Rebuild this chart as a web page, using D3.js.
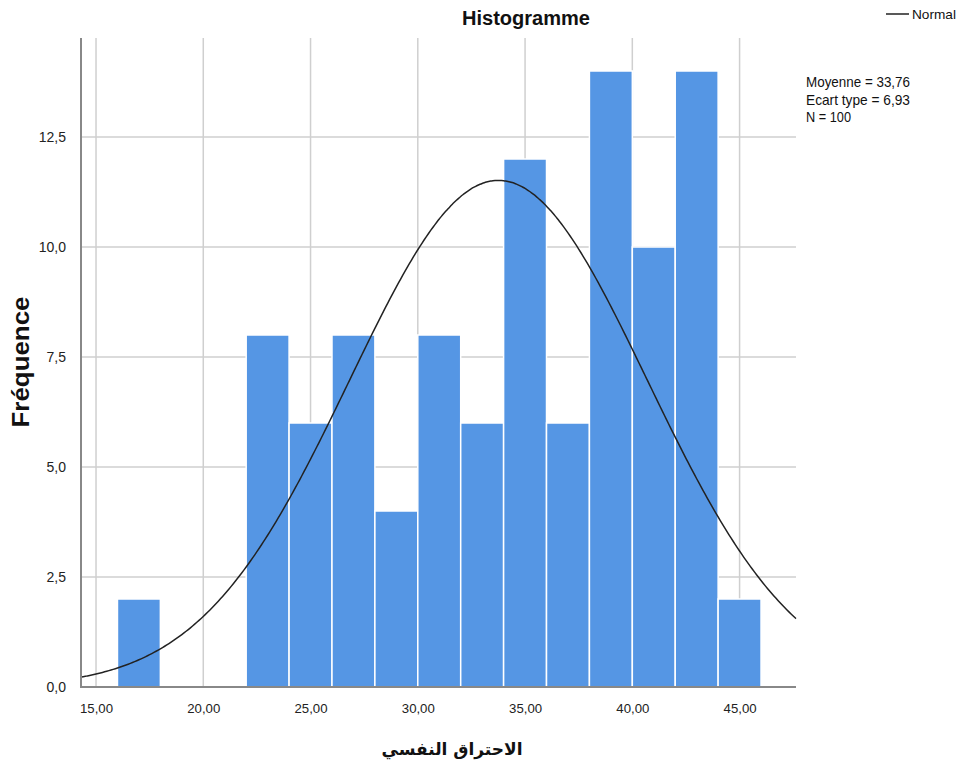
<!DOCTYPE html>
<html>
<head>
<meta charset="utf-8">
<script src="https://cdn.jsdelivr.net/npm/d3@7"></script>
<style>
  body { margin: 0; background: #fff; }
  svg { display: block; }
  text { font-family: "Liberation Sans", Arial, sans-serif; }
</style>
</head>
<body>
<svg id="chart" width="958" height="773"></svg>
<script>
// ---- data ----
const binStarts = [16, 18, 20, 22, 24, 26, 28, 30, 32, 34, 36, 38, 40, 42, 44];
const binCounts = [2, 0, 0, 8, 6, 8, 4, 8, 6, 12, 6, 14, 10, 14, 2];
const binWidth = 2;
const xTicks = [15, 20, 25, 30, 35, 40, 45];
const yTicks = [0, 2.5, 5, 7.5, 10, 12.5];
const statsMean = 33.76;
const statsSD = 6.93;
const statsN = 100;
const statsLines = ["Moyenne = 33,76", "Ecart type = 6,93", "N = 100"];
const titleText = "Histogramme";
const xTitle = "الاحتراق النفسي";
const yTitle = "Fréquence";
const legendLabel = "Normal";

(function () {
// ---- layout ----
const svg = d3.select("#chart");
const pL = 81, pR = 796, pT = 38, pB = 687;
const fmt = d3.format(".2f");
const comma = s => s.replace(".", ",");
const font = '"Liberation Sans", Arial, sans-serif';

const x = d3.scaleLinear().domain([14.3, 47.63]).range([pL, pR]);
const y = d3.scaleLinear().domain([0, 14.75]).range([pB, pT]);

// grid
const grid = svg.append("g");
grid.selectAll("line.v").data(xTicks).join("line").attr("class", "v")
  .attr("x1", d => x(d)).attr("x2", d => x(d))
  .attr("y1", pT).attr("y2", pB)
  .attr("stroke", "#cfcfcf").attr("stroke-width", 1.5);
grid.selectAll("line.h").data(yTicks.slice(1)).join("line").attr("class", "h")
  .attr("x1", pL).attr("x2", pR)
  .attr("y1", d => y(d)).attr("y2", d => y(d))
  .attr("stroke", "#cfcfcf").attr("stroke-width", 1.5);

// bars
svg.append("g").selectAll("rect")
  .data(binStarts.map((s, i) => ({s, c: binCounts[i]})).filter(d => d.c > 0))
  .join("rect")
  .attr("x", d => x(d.s))
  .attr("width", d => x(d.s + binWidth) - x(d.s))
  .attr("y", d => y(d.c))
  .attr("height", d => y(0) - y(d.c))
  .attr("fill", "#5596E4")
  .attr("stroke", "#ffffff").attr("stroke-width", 1.5);

// normal curve
const pts = d3.range(14.3, 47.63, 0.1).concat([47.63]).map(v => {
  const z = (v - statsMean) / statsSD;
  return [v, statsN * binWidth * Math.exp(-0.5 * z * z) / (statsSD * Math.sqrt(2 * Math.PI))];
});
svg.append("path").datum(pts)
  .attr("d", d3.line().x(d => x(d[0])).y(d => y(d[1])).curve(d3.curveBasis))
  .attr("fill", "none").attr("stroke", "#222").attr("stroke-width", 1.5);

// axes
const xAxis = d3.axisBottom(x).tickValues(xTicks).tickSize(0).tickPadding(16)
  .tickFormat(d => comma(fmt(d)));
const gx = svg.append("g").attr("transform", `translate(0,${pB})`).call(xAxis);
gx.select(".domain").remove();
gx.selectAll("text").attr("font-size", 13.5).attr("fill", "#222").style("font-family", font)
  .attr("textLength", 33).attr("lengthAdjust", "spacingAndGlyphs");

const yAxis = d3.axisLeft(y).tickValues(yTicks).tickSize(0).tickPadding(15)
  .tickFormat(d => comma(d3.format(".1f")(d)));
const gy = svg.append("g").attr("transform", `translate(${pL},0)`).call(yAxis);
gy.select(".domain").remove();
gy.selectAll("text").attr("font-size", 14).attr("fill", "#222").style("font-family", font);

svg.append("line").attr("x1", pL).attr("x2", pL).attr("y1", pT).attr("y2", pB + 1)
  .attr("stroke", "#888").attr("stroke-width", 2);
svg.append("line").attr("x1", pL - 1).attr("x2", pR).attr("y1", pB).attr("y2", pB)
  .attr("stroke", "#888").attr("stroke-width", 2);

// title
svg.append("text").attr("x", 526).attr("y", 25).attr("text-anchor", "middle")
  .attr("font-size", 20).attr("font-weight", "bold").attr("fill", "#111")
  .attr("textLength", 128).attr("lengthAdjust", "spacingAndGlyphs").text(titleText);

// axis titles
svg.append("text").attr("x", 452).attr("y", 755).attr("text-anchor", "middle")
  .attr("font-size", 17).attr("font-weight", "bold").attr("fill", "#111")
  .style("font-family", '"DejaVu Sans", "Noto Sans", sans-serif').attr("direction", "rtl")
  .text(xTitle);
svg.append("text").attr("transform", "translate(29,362) rotate(-90)").attr("text-anchor", "middle")
  .attr("font-size", 23).attr("font-weight", "bold").attr("fill", "#111")
  .attr("textLength", 131).attr("lengthAdjust", "spacingAndGlyphs")
  .style("font-family", font).text(yTitle);

// legend
svg.append("line").attr("x1", 886).attr("x2", 909).attr("y1", 14).attr("y2", 14)
  .attr("stroke", "#222").attr("stroke-width", 1.5);
svg.append("text").attr("x", 912).attr("y", 19).attr("font-size", 13.5).attr("fill", "#111")
  .attr("textLength", 44).attr("lengthAdjust", "spacingAndGlyphs").text(legendLabel);

// stats
svg.append("g").selectAll("text").data(statsLines).join("text")
  .attr("x", 806).attr("y", (d, i) => 87 + i * 17.5)
  .attr("font-size", 15).attr("fill", "#111")
  .attr("textLength", (d, i) => [104, 104, 45][i]).attr("lengthAdjust", "spacingAndGlyphs")
  .text(d => d);
})();
</script>
</body>
</html>
